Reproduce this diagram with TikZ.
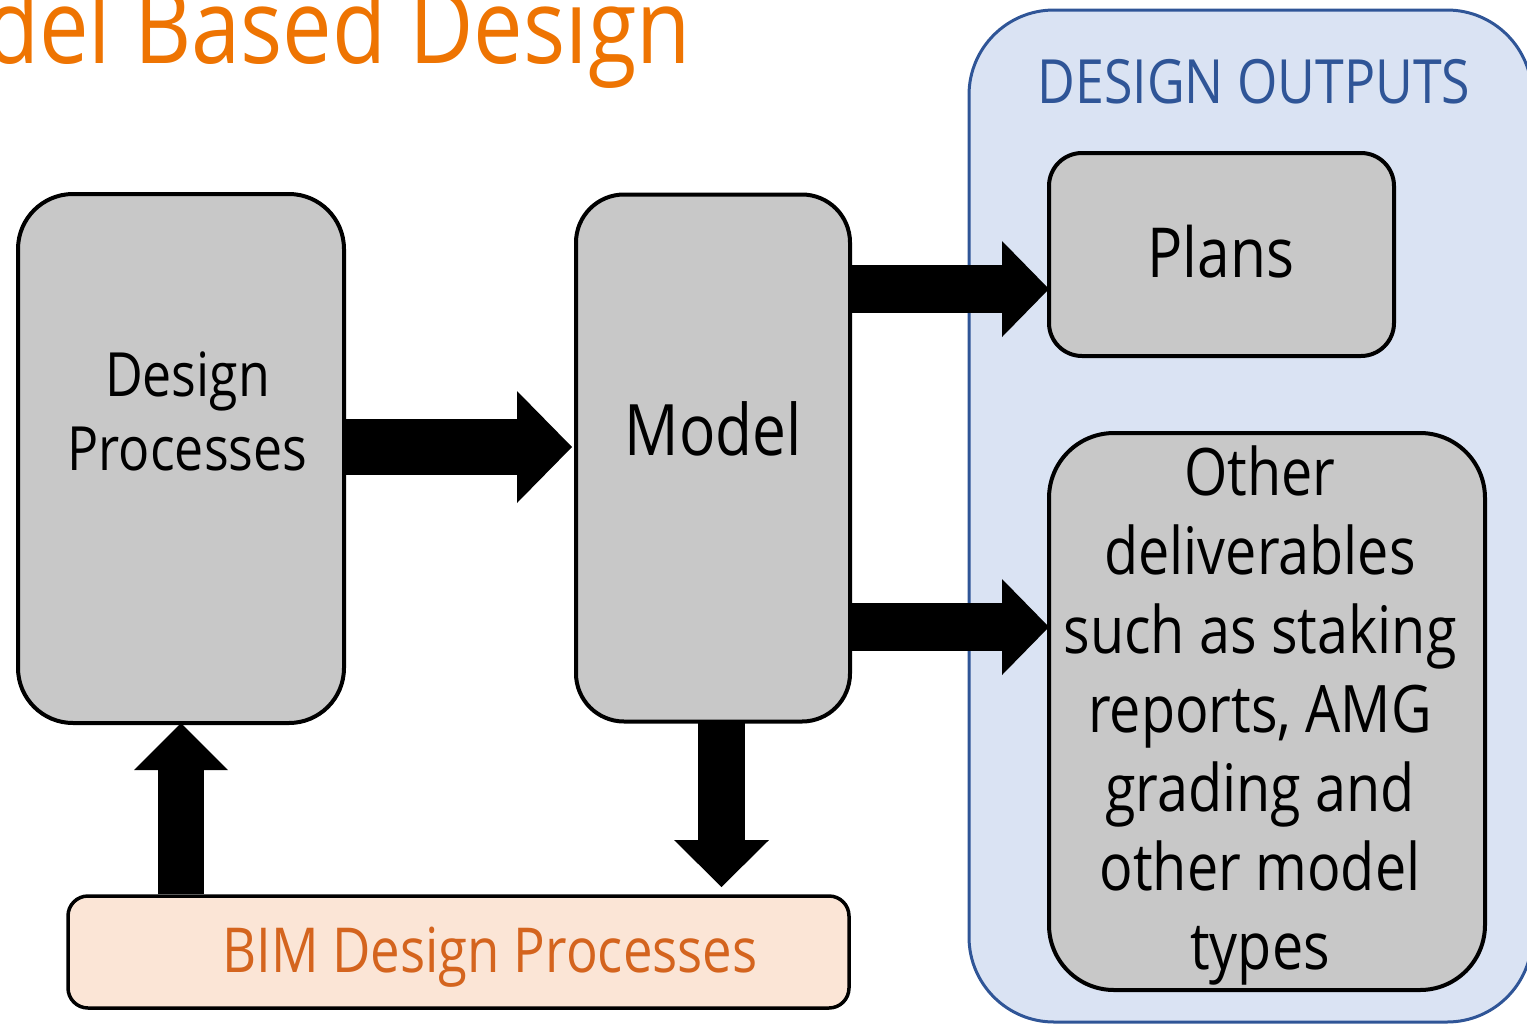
\documentclass[tikz,border=0pt]{standalone}
\usepackage{fontspec}
\setmainfont{Open Sans}[FakeStretch=0.85]
\usetikzlibrary{arrows.meta}
\definecolor{titleorange}{RGB}{238,116,2}
\definecolor{bimorange}{RGB}{212,100,30}
\definecolor{boxgrey}{RGB}{200,200,200}
\definecolor{outfill}{RGB}{218,227,243}
\definecolor{outblue}{RGB}{47,85,151}
\definecolor{bimfill}{RGB}{251,229,214}
\begin{document}
\begin{tikzpicture}[x=1pt,y=-1pt,
  greybox/.style={draw=black, line width=4pt, fill=boxgrey, inner sep=0pt, outer sep=0pt},
  lbl/.style={inner sep=0pt, outer sep=0pt, align=center, anchor=base},
  bigarrow/.style n args={3}{line width=#1, -{Triangle[width=#2, length=#3, line width=0pt]}}]
\useasboundingbox (0,0) rectangle (1527,1026);

% title
\node[inner sep=0pt, anchor=base east, text=titleorange, font=\fontsize{104}{120}\selectfont] (title) at (691,63)
  {Model Based Design};

% design outputs container
\node[draw=outblue, line width=3pt, fill=outfill, rounded corners=85pt,
      minimum width=563pt, minimum height=1012pt, inner sep=0pt] (outputs) at (1250.5,516) {};
\node[lbl, text=outblue, font=\fontsize{61}{70}\selectfont] (outtitle) at (1254,103) {DESIGN OUTPUTS};

% boxes
\node[greybox, rounded corners=55pt, minimum width=326pt, minimum height=529pt] (dp) at (181,458.5) {};
\node[greybox, rounded corners=48pt, minimum width=274pt, minimum height=527pt] (model) at (713,458) {};
\node[greybox, rounded corners=33pt, minimum width=345pt, minimum height=203pt] (plans) at (1221.5,254.5) {};
\node[greybox, rounded corners=65pt, minimum width=436pt, minimum height=557pt] (other) at (1267,711.5) {};
\node[draw=black, line width=3.5pt, fill=bimfill, rounded corners=20pt, inner sep=0pt,
      minimum width=781pt, minimum height=112pt] (bim) at (458.5,952) {};

% labels (base = baseline of the last line)
\node[lbl, font=\fontsize{61}{74}\selectfont] (dplbl) at (187.5,470) {Design\\Processes};
\node[lbl, font=\fontsize{71}{80}\selectfont] (modellbl) at (713.5,455.5) {Model};
\node[lbl, font=\fontsize{69}{80}\selectfont] (planslbl) at (1221,277) {Plans};
\node[lbl, font=\fontsize{65.5}{79}\selectfont] (otherlbl) at (1260,969) {Other\\deliverables\\such as staking\\reports, AMG\\grading and\\other model\\types};
\node[lbl, text=bimorange, font=\fontsize{62}{70}\selectfont] (bimlbl) at (490,972.7) {BIM Design Processes};

% row / column helpers
\coordinate (r1) at (0,447);
\coordinate (r2) at (0,289);
\coordinate (r3) at (0,627);
\coordinate (c1) at (721.5,0);
\coordinate (c2) at (181,0);
\coordinate (downend) at (721.5,887);
\coordinate (dpin) at (572,447);

% arrows
\draw[bigarrow={56pt}{112pt}{55pt}] (dp.east |- r1) -- (dpin);
\draw[bigarrow={48pt}{96pt}{47pt}] (model.east |- r2) -- (plans.west |- r2);
\draw[bigarrow={48pt}{96pt}{47pt}] (model.east |- r3) -- (other.west |- r3);
\draw[bigarrow={47pt}{95pt}{47pt}] (c1 |- model.south) -- (downend);
\draw[bigarrow={46pt}{94pt}{47pt}] (c2 |- bim.north) -- (c2 |- dp.south);
\end{tikzpicture}
\end{document}
